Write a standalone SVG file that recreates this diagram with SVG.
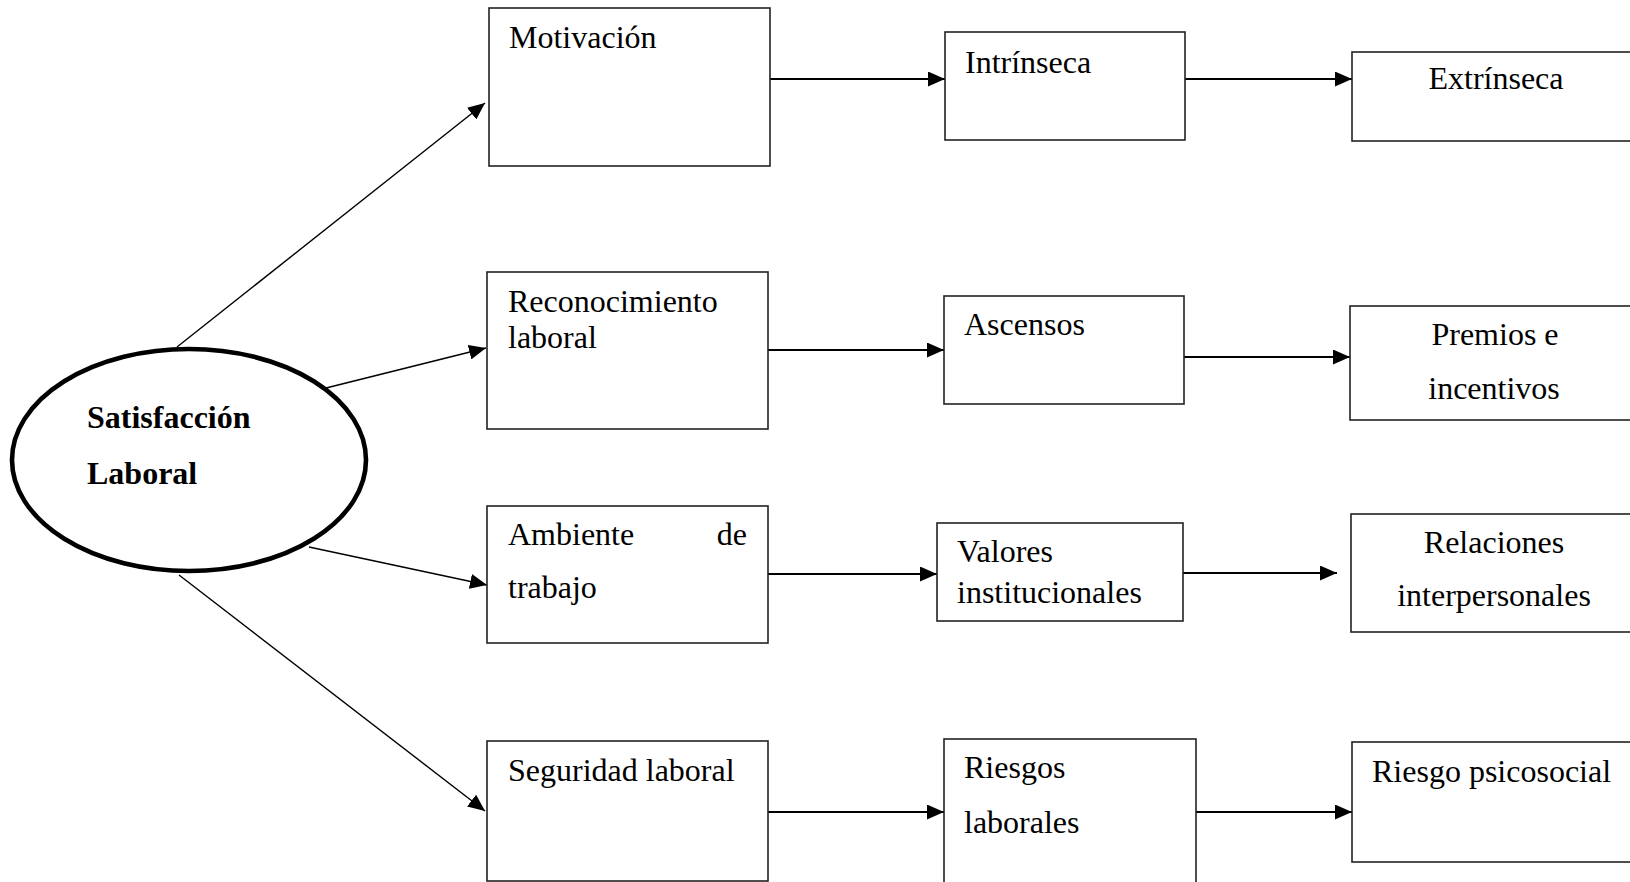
<svg xmlns="http://www.w3.org/2000/svg" width="1630" height="882" viewBox="0 0 1630 882">
<style>
.box{fill:#fff;stroke:#222;stroke-width:1.6}
.t{font-family:"Liberation Serif","Times New Roman",serif;font-size:32px;fill:#000}
.c{text-anchor:middle}
.b{font-weight:bold}
.h{stroke:#000;stroke-width:2.2;fill:none}
.d{stroke:#000;stroke-width:1.4;fill:none}
</style>
<defs>
<marker id="ah" markerUnits="userSpaceOnUse" markerWidth="17" markerHeight="15" refX="17" refY="7.5" orient="auto">
<path d="M0,0 L17,7.5 L0,15 z" fill="#000"/>
</marker>
</defs>
<rect width="1630" height="882" fill="#fff"/>
<g id="connectors">
<line class="d" x1="177" y1="347" x2="485" y2="103" marker-end="url(#ah)"/>
<line class="d" x1="326" y1="388" x2="486" y2="348" marker-end="url(#ah)"/>
<line class="d" x1="309" y1="547" x2="487" y2="585" marker-end="url(#ah)"/>
<line class="d" x1="179" y1="575" x2="485" y2="811" marker-end="url(#ah)"/>
<line class="h" x1="770" y1="79" x2="945" y2="79" marker-end="url(#ah)"/>
<line class="h" x1="1185" y1="79" x2="1352" y2="79" marker-end="url(#ah)"/>
<line class="h" x1="768" y1="350" x2="944" y2="350" marker-end="url(#ah)"/>
<line class="h" x1="1184" y1="357" x2="1350" y2="357" marker-end="url(#ah)"/>
<line class="h" x1="768" y1="574" x2="937" y2="574" marker-end="url(#ah)"/>
<line class="h" x1="1183" y1="573" x2="1337" y2="573" marker-end="url(#ah)"/>
<line class="h" x1="768" y1="812" x2="944" y2="812" marker-end="url(#ah)"/>
<line class="h" x1="1196" y1="812" x2="1352" y2="812" marker-end="url(#ah)"/>
</g>
<g id="satisfaccion">
<ellipse cx="189" cy="460" rx="177" ry="111" fill="#fff" stroke="#000" stroke-width="4.6"/>
<text class="t b" x="87" y="428">Satisfacción</text>
<text class="t b" x="87" y="484">Laboral</text>
</g>
<g id="motivacion">
<rect class="box" x="489" y="8" width="281" height="158"/>
<text class="t" x="509" y="48">Motivación</text>
</g>
<g id="reconocimiento">
<rect class="box" x="487" y="272" width="281" height="157"/>
<text class="t" x="508" y="312">Reconocimiento</text>
<text class="t" x="508" y="348">laboral</text>
</g>
<g id="ambiente">
<rect class="box" x="487" y="506" width="281" height="137"/>
<text class="t" x="508" y="545">Ambiente</text>
<text class="t" x="747" y="545" text-anchor="end">de</text>
<text class="t" x="508" y="598">trabajo</text>
</g>
<g id="seguridad">
<rect class="box" x="487" y="741" width="281" height="140"/>
<text class="t" x="508" y="781">Seguridad laboral</text>
</g>
<g id="intrinseca">
<rect class="box" x="945" y="32" width="240" height="108"/>
<text class="t" x="965" y="73">Intrínseca</text>
</g>
<g id="extrinseca">
<rect class="box" x="1352" y="52" width="290" height="89"/>
<text class="t c" x="1496" y="89">Extrínseca</text>
</g>
<g id="ascensos">
<rect class="box" x="944" y="296" width="240" height="108"/>
<text class="t" x="964" y="335">Ascensos</text>
</g>
<g id="premios">
<rect class="box" x="1350" y="306" width="290" height="114"/>
<text class="t c" x="1495" y="345">Premios e</text>
<text class="t c" x="1494" y="399">incentivos</text>
</g>
<g id="valores">
<rect class="box" x="937" y="523" width="246" height="98"/>
<text class="t" x="957" y="562">Valores</text>
<text class="t" x="957" y="603">institucionales</text>
</g>
<g id="relaciones">
<rect class="box" x="1351" y="514" width="290" height="118"/>
<text class="t c" x="1494" y="553">Relaciones</text>
<text class="t c" x="1494" y="606">interpersonales</text>
</g>
<g id="riesgos">
<rect class="box" x="944" y="739" width="252" height="150"/>
<text class="t" x="964" y="778">Riesgos</text>
<text class="t" x="964" y="833">laborales</text>
</g>
<g id="psicosocial">
<rect class="box" x="1352" y="742" width="290" height="120"/>
<text class="t" x="1372" y="782">Riesgo psicosocial</text>
</g>
</svg>
